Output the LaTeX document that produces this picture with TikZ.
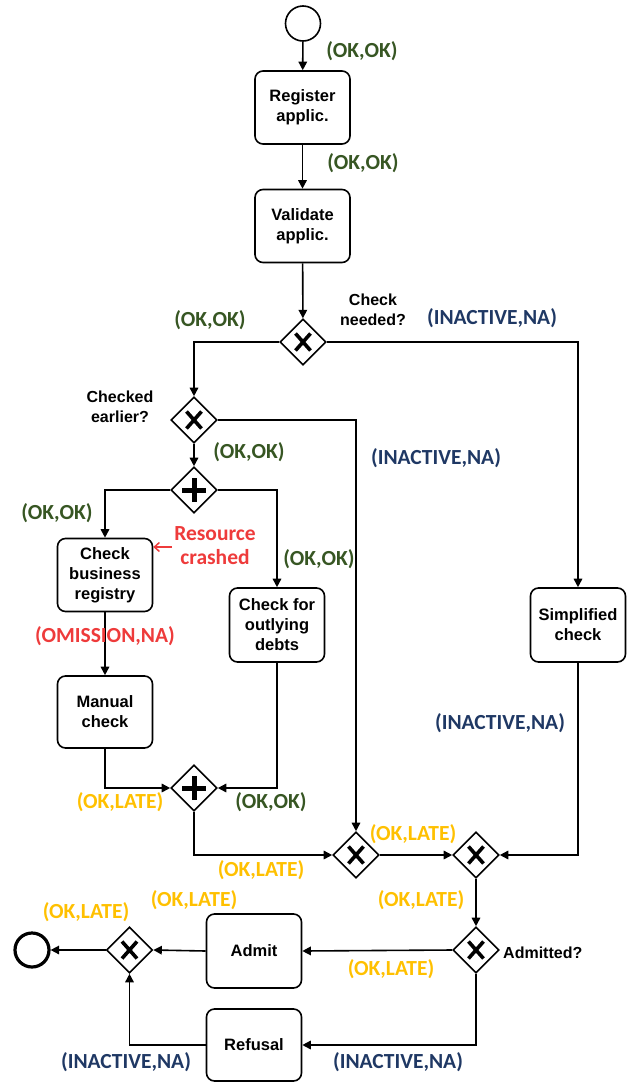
\documentclass[tikz,border=0pt]{standalone}
\usepackage{fontspec}
\setmainfont{Liberation Sans}
\newfontfamily\lblfont{Carlito}
\usetikzlibrary{shapes.geometric,arrows.meta}
\definecolor{okgreen}{HTML}{375623}
\definecolor{inactblue}{HTML}{1F3864}
\definecolor{lateorange}{HTML}{FFC000}
\definecolor{crashred}{HTML}{EE3B3B}
\tikzset{
  flow/.style={line width=1.6pt, -{Triangle[length=8.5pt,width=8.5pt]}},
  taskbox/.style={draw, line width=1.6pt, rounded corners=8pt, minimum width=95pt,
    minimum height=73pt, align=center, inner sep=2pt,
    font=\fontsize{16.5}{20}\selectfont\bfseries},
  gw/.style={diamond, draw, line width=1.6pt, minimum size=46pt, inner sep=0pt},
  xgw/.style={gw, path picture={
    \draw[line width=3.6pt]
      ([shift={(-7.5pt,-8.5pt)}]path picture bounding box.center) --
      ([shift={(7.5pt,8.5pt)}]path picture bounding box.center)
      ([shift={(-7.5pt,8.5pt)}]path picture bounding box.center) --
      ([shift={(7.5pt,-8.5pt)}]path picture bounding box.center);}},
  pgw/.style={gw, path picture={
    \draw[line width=5pt]
      ([shift={(-12pt,0pt)}]path picture bounding box.center) --
      ([shift={(12pt,0pt)}]path picture bounding box.center)
      ([shift={(0pt,-12pt)}]path picture bounding box.center) --
      ([shift={(0pt,12pt)}]path picture bounding box.center);}},
  lbl/.style={font=\lblfont\fontsize{21.5}{24}\selectfont\bfseries, inner sep=0pt},
  ok/.style={lbl, text=okgreen},
  inact/.style={lbl, text=inactblue},
  late/.style={lbl, text=lateorange},
  bad/.style={lbl, text=crashred, align=center},
  note/.style={font=\fontsize{16}{19.5}\selectfont\bfseries, align=center, inner sep=0pt},
}
\begin{document}
\begin{tikzpicture}[x=1pt,y=-1pt]
\useasboundingbox (0,0) rectangle (629,1082);

% events
\node[circle, draw, line width=1.6pt, minimum size=35pt, inner sep=0pt] (start) at (303,23.5) {};
\node[circle, draw, line width=3.2pt, minimum size=34pt, inner sep=0pt] (end) at (32,950) {};

% tasks
\node[taskbox] (reg) at (302.5,107.5) {Register\\applic.};
\node[taskbox] (val) at (302.5,226) {Validate\\applic.};
\node[taskbox] (cbr) at (105,575) {Check\\business\\registry};
\node[taskbox, minimum height=74pt] (cod) at (277,625) {Check for\\outlying\\debts};
\node[taskbox, minimum height=72pt] (man) at (105,712) {Manual\\check};
\node[taskbox, minimum height=74pt] (simp) at (578,625) {Simplified\\check};
\node[taskbox, minimum height=74pt] (admit) at (254,951) {Admit};
\node[taskbox, minimum height=72pt] (refusal) at (254,1045) {Refusal};

% gateways
\node[xgw] (g1) at (303,342) {};
\node[xgw] (g2) at (194,420) {};
\node[pgw] (p1) at (194,490) {};
\node[pgw] (p2) at (194,788) {};
\node[xgw] (m1) at (356,855) {};
\node[xgw] (m2) at (476,855) {};
\node[xgw] (ga) at (476,950) {};
\node[xgw] (x3) at (129.5,950) {};

% gateway captions
\node[note] (qneed) at (373,310) {Check\\needed?};
\node[note] (qearly) at (120,407) {Checked\\earlier?};
\node[note, anchor=west] (qadm) at (503,953) {Admitted?};

% sequence flows
\draw[flow] (start) -- (reg);
\draw[flow] (reg) -- (val);
\draw[flow] (val) -- (g1);
\draw[flow] (g1.west) -| (g2.north);
\draw[flow] (g1.east) -| (simp.north);
\draw[flow] (g2.south) -- (p1.north);
\draw[flow] (g2.east) -| (m1.north);
\draw[flow] (p1.west) -| (cbr.north);
\draw[flow] (p1.east) -| (cod.north);
\draw[flow] (cbr) -- (man);
\draw[flow] (man.south) |- (p2.west);
\draw[flow] (cod.south) |- (p2.east);
\draw[flow] (p2.south) |- (m1.west);
\draw[flow] (m1.east) -- (m2.west);
\draw[flow] (simp.south) |- (m2.east);
\draw[flow] (m2.south) -- (ga.north);
\draw[flow] (ga.west) -- (admit.east);
\draw[flow] (admit.west) -- (x3.east);
\draw[flow] (ga.south) |- (refusal.east);
\draw[flow] (refusal.west) -| (x3.south);
\draw[flow] (x3.west) -- (end.east);

% fault annotation
\node[bad] (crash) at (215,546) {Resource\\crashed};
\coordinate (crashtail) at (172,547);
\draw[crashred, line width=1.5pt, -{Straight Barb[length=5pt,width=9pt]}] (crashtail) -- (cbr.east |- crashtail);

% flow state labels
\node[ok] (l1) at (362,51) {(OK,OK)};
\node[ok] (l2) at (363,163) {(OK,OK)};
\node[ok] (l3) at (210,320) {(OK,OK)};
\node[inact] (l4) at (492,318) {(INACTIVE,NA)};
\node[ok] (l5) at (249,452) {(OK,OK)};
\node[inact] (l6) at (436,458) {(INACTIVE,NA)};
\node[ok] (l7) at (57,513) {(OK,OK)};
\node[ok] (l8) at (319,559) {(OK,OK)};
\node[bad] (l9) at (105,636) {(OMISSION,NA)};
\node[inact] (l10) at (500,723) {(INACTIVE,NA)};
\node[late] (l11) at (120,802) {(OK,LATE)};
\node[ok] (l12) at (271,802) {(OK,OK)};
\node[late] (l13) at (413,834) {(OK,LATE)};
\node[late] (l14) at (261,870) {(OK,LATE)};
\node[late] (l15) at (421,900) {(OK,LATE)};
\node[late] (l16) at (194,900) {(OK,LATE)};
\node[late] (l17) at (86,912) {(OK,LATE)};
\node[late] (l18) at (391,969) {(OK,LATE)};
\node[inact] (l19) at (126,1062) {(INACTIVE,NA)};
\node[inact] (l20) at (398,1062) {(INACTIVE,NA)};
\end{tikzpicture}
\end{document}
